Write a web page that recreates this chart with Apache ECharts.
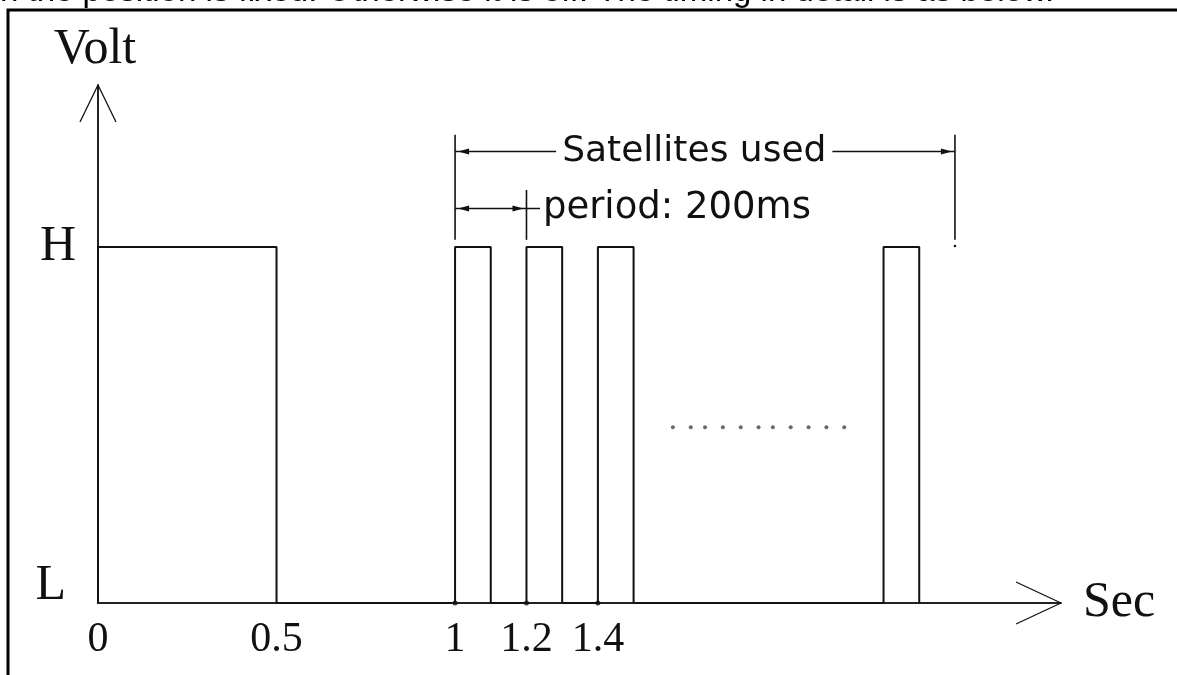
<!DOCTYPE html>
<html>
<head>
<meta charset="utf-8">
<script src="https://cdn.jsdelivr.net/npm/echarts@6/dist/echarts.min.js"></script>
<style>
html,body{margin:0;padding:0;background:#fff;}
#main{width:1177px;height:675px;}
</style>
</head>
<body>
<div id="main"></div>
<script>
// ---- data ----
const pulseStarts = [0, 1, 1.2, 1.4, 2.2];
const pulseEnds   = [0.5, 1.1, 1.3, 1.5, 2.3];
const levelLow = 0, levelHigh = 1;
const xTickValues = [0, 0.5, 1, 1.2, 1.4];
const xTickLabels = ['0', '0.5', '1', '1.2', '1.4'];
const yTickValues = [0, 1];
const yTickLabels = ['L', 'H'];
const axisDotX = [1, 1.2, 1.4];
const ellipsisX = [1.61, 1.66, 1.70, 1.75, 1.80, 1.85, 1.89, 1.94, 1.99, 2.04, 2.09];
const ellipsisY = 0.494;
const satDimX = [1, 2.4];
const satDimY = 1.268;
const satLabel = 'Satellites used';
const satLabelX = 1.67;
const periodDimX = [1, 1.2];
const periodDimY = 1.108;
const periodLineEnd = 1.238;
const periodLabel = 'period: 200ms';
const periodLabelX = 1.246;
const extTop = 1.315, periodExtTop = 1.16, extBottom = 1.02;
const xMax = 2.697, yMax = 1.455;
const headerText = 'n the position is fixed. Otherwise it is off. The timing in detail is as below.';

// build step waveform
const wave = [[0, levelLow]];
for (let i = 0; i < pulseStarts.length; i++) {
  wave.push([pulseStarts[i], levelLow]);
  wave.push([pulseStarts[i], levelHigh]);
  wave.push([pulseEnds[i], levelHigh]);
  wave.push([pulseEnds[i], levelLow]);
}

const serif = '"Liberation Serif", "Times New Roman", serif';
const ink = '#111';

const chart = echarts.init(document.getElementById('main'), null, {renderer: 'canvas'});

function renderAnno(params, api) {
  const c = p => api.coord(p);
  const ch = [];
  const line = (a, b, w) => ch.push({type: 'line', shape: {x1: a[0], y1: a[1], x2: b[0], y2: b[1]}, style: {stroke: ink, lineWidth: w || 1.6}});
  const tri = (tip, dir) => ch.push({type: 'polygon', shape: {points: [[tip[0] + dir * 3, tip[1]], [tip[0] + dir * 14, tip[1] - 3], [tip[0] + dir * 14, tip[1] + 3]]}, style: {fill: ink}});
  // axis arrowheads (open V)
  const xt = c([xMax, 0]);
  line([xt[0] - 45, xt[1] - 21], xt, 1.3);
  line([xt[0] - 45, xt[1] + 21], xt, 1.3);
  const yt = c([0, yMax]);
  line([yt[0] - 18, yt[1] + 37], yt, 1.3);
  line([yt[0] + 18, yt[1] + 37], yt, 1.3);
  // extension lines
  line(c([satDimX[0], extTop]), c([satDimX[0], extBottom]));
  line(c([satDimX[1], extTop]), c([satDimX[1], extBottom]));
  line(c([periodDimX[1], periodExtTop]), c([periodDimX[1], extBottom]));
  const bd = c([satDimX[1], levelHigh]);
  ch.push({type: 'circle', shape: {cx: bd[0], cy: bd[1] - 1, r: 1.3}, style: {fill: ink}});
  // satellites dimension
  const s0 = c([satDimX[0], satDimY]), s1 = c([satDimX[1], satDimY]);
  line(s0, s1);
  tri(s0, 1); tri(s1, -1);
  const sl = c([satLabelX, satDimY]);
  ch.push({type: 'text', x: sl[0], y: sl[1], style: {text: satLabel, font: '36px "DejaVu Sans"', fill: ink, align: 'center', verticalAlign: 'middle', backgroundColor: '#fff', padding: [0, 6]}});
  // period dimension
  const p0 = c([periodDimX[0], periodDimY]), p1 = c([periodDimX[1], periodDimY]);
  line(p0, c([periodLineEnd, periodDimY]));
  tri(p0, 1); tri(p1, -1);
  const pl = c([periodLabelX, periodDimY]);
  ch.push({type: 'text', x: pl[0], y: pl[1], style: {text: periodLabel, font: '37px "DejaVu Sans"', fill: ink, align: 'left', verticalAlign: 'middle'}});
  return {type: 'group', children: ch};
}

const option = {
  animation: false,
  backgroundColor: '#fff',
  graphic: [
    {type: 'rect', z: 0, shape: {x: 8, y: 10, width: 1250, height: 800}, style: {fill: 'none', stroke: '#000', lineWidth: 3}},
    {type: 'text', z: 0, x: 0, y: 8, style: {text: headerText, font: '33px "Liberation Sans"', fill: '#000', verticalAlign: 'bottom'}}
  ],
  grid: {left: 98, top: 85, right: 116, bottom: 72},
  xAxis: {
    type: 'value', min: 0, max: xMax,
    name: 'Sec', nameLocation: 'end', nameGap: 22,
    nameTextStyle: {fontFamily: serif, fontSize: 50, color: ink},
    axisLine: {show: true, lineStyle: {color: '#222', width: 2}},
    axisTick: {show: false},
    splitLine: {show: false},
    axisLabel: {
      customValues: xTickValues,
      formatter: v => { const i = xTickValues.findIndex(t => Math.abs(t - v) < 1e-6); return i >= 0 ? xTickLabels[i] : ''; },
      fontFamily: serif, fontSize: 42, color: ink, margin: 16
    }
  },
  yAxis: {
    type: 'value', min: 0, max: yMax,
    name: 'Volt', nameLocation: 'end', nameGap: 10,
    nameTextStyle: {fontFamily: serif, fontSize: 50, color: ink, padding: [0, 6, 0, 0]},
    axisLine: {show: true, lineStyle: {color: '#222', width: 2}},
    axisTick: {show: false},
    splitLine: {show: false},
    axisLabel: {
      customValues: yTickValues,
      formatter: v => { const i = yTickValues.findIndex(t => Math.abs(t - v) < 1e-6); return i === 1 ? '{h|' + yTickLabels[i] + '}' : '{l|' + yTickLabels[i] + '}'; },
      margin: 22,
      rich: {
        h: {fontFamily: serif, fontSize: 50, color: ink},
        l: {fontFamily: serif, fontSize: 50, color: ink, padding: [0, 10, 34, 0]}
      }
    }
  },
  series: [
    {type: 'line', data: wave, symbol: 'none', lineStyle: {color: ink, width: 2}, z: 3},
    {type: 'scatter', data: ellipsisX.map(x => [x, ellipsisY]), symbol: 'circle', symbolSize: 4, itemStyle: {color: '#444'}, z: 3},
    {type: 'scatter', data: axisDotX.map(x => [x, levelLow]), symbol: 'circle', symbolSize: 5, itemStyle: {color: ink}, z: 4},
    {type: 'custom', data: [[0, 0]], renderItem: renderAnno, clip: false, z: 5}
  ]
};
chart.setOption(option);
</script>
</body>
</html>
